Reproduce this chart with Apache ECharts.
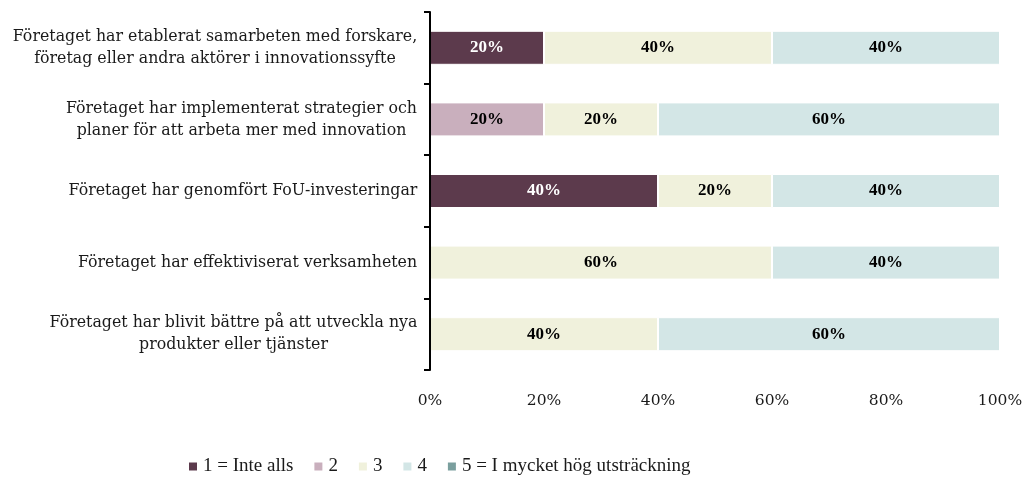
<!DOCTYPE html>
<html>
<head>
<meta charset="utf-8">
<script src="https://cdn.jsdelivr.net/npm/echarts@6/dist/echarts.min.js"></script>
<style>
  html, body { margin: 0; padding: 0; background: #fff; }
  #main { width: 1028px; height: 477px; }
</style>
</head>
<body>
<div id="main"></div>
<script>
// kategorier, uppifrån och ned
var categories = [
  "Företaget har etablerat samarbeten med forskare,\nföretag eller andra aktörer i innovationssyfte",
  "Företaget har implementerat strategier och\nplaner för att arbeta mer med innovation",
  "Företaget har genomfört FoU-investeringar",
  "Företaget har effektiviserat verksamheten",
  "Företaget har blivit bättre på att utveckla nya\nprodukter eller tjänster"
];
var seriesNames = ["1 = Inte alls", "2", "3", "4", "5 = I mycket hög utsträckning"];
var s1 = [20, 0, 40, 0, 0];
var s2 = [0, 20, 0, 0, 0];
var s3 = [40, 20, 20, 60, 40];
var s4 = [40, 60, 40, 40, 60];
var s5 = [0, 0, 0, 0, 0];

var colors = ["#5c3a4c", "#c9afbd", "#f0f1dc", "#d3e6e6", "#7a9f9e"];
var labelColors = ["#fff", "#000", "#000", "#000", "#fff"];
var font = '"DejaVu Serif", serif';
var catSize = 15.8;

// widest line per label, so lines can be centred inside a right-aligned block
var ctx = document.createElement("canvas").getContext("2d");
ctx.font = catSize + "px " + font;
var rich = {};
categories.forEach(function (c, i) {
  var w = 0;
  c.split("\n").forEach(function (l) { w = Math.max(w, ctx.measureText(l).width); });
  rich["w" + i] = { width: Math.ceil(w) + 1, align: "center", fontSize: catSize, fontFamily: font, color: "#1a1a1a", lineHeight: 22 };
});

var chart = echarts.init(document.getElementById("main"));
var data = [s1, s2, s3, s4, s5];

var option = {
  animation: false,
  color: colors,
  grid: { left: 430, right: 28, top: 12, bottom: 107, containLabel: false },
  legend: {
    data: seriesNames,
    top: 452,
    left: 182,
    icon: "rect",
    itemWidth: 10,
    itemHeight: 10,
    itemGap: 19,
    textStyle: { fontFamily: '"Liberation Serif", serif', fontSize: 19, color: "#1a1a1a" }
  },
  xAxis: {
    type: "value",
    min: 0,
    max: 100,
    interval: 20,
    axisLine: { show: false },
    axisTick: { show: false },
    splitLine: { show: false },
    axisLabel: { formatter: "{value}%", margin: 23, fontFamily: font, fontSize: 15.5, color: "#1a1a1a" }
  },
  yAxis: {
    type: "category",
    inverse: true,
    z: 10,
    data: categories,
    axisLine: { lineStyle: { color: "#000", width: 2 } },
    axisTick: { show: true, length: 6, lineStyle: { color: "#000", width: 2 } },
    axisLabel: {
      margin: 12,
      formatter: function (v, i) {
        return v.split("\n").map(function (l) { return "{w" + i + "|" + l + "}"; }).join("\n");
      },
      rich: rich
    }
  },
  series: data.map(function (d, k) {
    return {
      name: seriesNames[k],
      type: "bar",
      stack: "all",
      barWidth: 34,
      data: d,
      itemStyle: { borderColor: "#fff", borderWidth: 1 },
      label: {
        show: true,
        position: "inside",
        color: labelColors[k],
        fontFamily: '"Liberation Serif", serif',
        fontWeight: "bold",
        fontSize: 17,
        formatter: function (p) { return p.value ? p.value + "%" : ""; }
      }
    };
  })
};
chart.setOption(option);
</script>
</body>
</html>
